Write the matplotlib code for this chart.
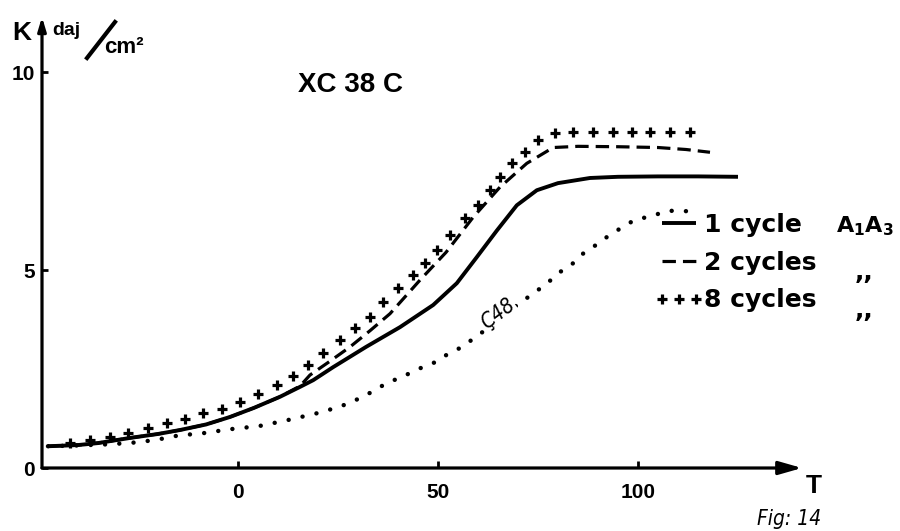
import matplotlib
matplotlib.use("Agg")
import matplotlib.pyplot as plt
from matplotlib.lines import Line2D
from matplotlib.legend_handler import HandlerLine2D

# K (daj/cm2) against temperature T, steel XC 38 C
t_1cycle = [-47.5, -40, -35, -27, -20, -14.5, -8, -2, 4, 10.5, 15.5, 18.8, 23.8, 32,
            40.5, 48.8, 54.7, 59.7, 64.7, 69.7, 74.7, 80, 88, 95, 105, 115, 125]
k_1cycle = [0.55, 0.58, 0.63, 0.76, 0.86, 0.96, 1.1, 1.29, 1.52, 1.8, 2.05, 2.22, 2.55, 3.06,
            3.56, 4.12, 4.67, 5.33, 6.0, 6.64, 7.02, 7.2, 7.33, 7.36, 7.37, 7.37, 7.36]

t_2cycles = [-47.5, -40, -35, -27, -20, -14.5, -8, -2, 4, 10.5, 15.5, 18, 23, 28, 33, 38,
             45.5, 52, 58.8, 65.5, 72.2, 78.8, 85, 95, 105, 112, 118]
k_2cycles = [0.55, 0.58, 0.63, 0.76, 0.86, 0.96, 1.1, 1.29, 1.52, 1.8, 2.07, 2.35, 2.7, 3.06, 3.47, 3.9,
             4.75, 5.45, 6.34, 7.1, 7.7, 8.1, 8.13, 8.12, 8.1, 8.05, 7.98]

t_8cycles = [-42, -37, -32, -27.5, -22.5, -17.7, -13.2, -8.7, -4, 0.5, 5, 9.7, 13.8, 17.5, 21.3,
             25.5, 29.3, 33, 36.3, 40, 43.8, 46.8, 49.7, 53, 56.8, 60, 63, 65.5, 68.5, 71.7, 75,
             79.3, 83.8, 88.8, 93.8, 98.4, 103, 108, 113]
k_8cycles = [0.62, 0.7, 0.78, 0.88, 1.0, 1.13, 1.23, 1.38, 1.5, 1.68, 1.88, 2.1, 2.33, 2.6, 2.9,
             3.23, 3.53, 3.82, 4.19, 4.54, 4.87, 5.18, 5.5, 5.88, 6.31, 6.64, 7.02, 7.35, 7.7, 7.98, 8.28,
             8.46, 8.48, 8.48, 8.48, 8.48, 8.48, 8.48, 8.48]

t_c48 = [-47.5, -40, -32, -25, -20, -15, -8.7, -2, 5.3, 12.4, 20, 25.5, 29.5, 34, 37.2, 41, 45,
         48.8, 52, 56, 59, 62, 66, 71, 73.8, 76.8, 80, 83.5, 86, 89.7, 92.8, 96, 99, 103.7,
         107.5, 111, 114.5]
k_c48 = [0.55, 0.57, 0.6, 0.65, 0.72, 0.82, 0.88, 0.98, 1.06, 1.21, 1.39, 1.55, 1.72, 1.95, 2.15, 2.3, 2.5,
         2.65, 2.85, 3.06, 3.28, 3.5, 3.85, 4.2, 4.42, 4.62, 4.92, 5.15, 5.4, 5.65, 5.88, 6.08, 6.26, 6.38,
         6.5, 6.5, 6.47]

legend_labels = ["1 cycle", "2 cycles", "8 cycles"]
x_ticks = [0, 50, 100]
y_ticks = [0, 5, 10]

W, H = 900, 531
BOLD = dict(family=["Liberation Sans", "DejaVu Sans"], weight="bold")
WIDE = dict(family="DejaVu Sans", weight="bold")
HAND = dict(family="DejaVu Sans", style="italic", stretch="condensed")
plt.rcParams["mathtext.fontset"] = "dejavusans"


def fig_xy(x, y):
    return x / W, 1 - y / H


fig = plt.figure(figsize=(9, 5.31), dpi=100)
ax = fig.add_axes([42 / W, 1 - 468 / H, 760 / W, 455 / H])
ax.set_xlim(-49, 141)
ax.set_ylim(0, 11.5)

ax.plot(t_c48, k_c48, color="black", lw=3.2, linestyle=(0, (0.01, 3.2)),
        dash_capstyle="round")
l1, = ax.plot(t_1cycle, k_1cycle, color="black", lw=2.8, solid_capstyle="butt")
l2, = ax.plot(t_2cycles, k_2cycles, color="black", lw=2.3, linestyle=(0, (4.2, 2.2)))
l8, = ax.plot(t_8cycles, k_8cycles, linestyle="none", marker="+", color="black",
              markersize=7, markeredgewidth=2.3)

# axes drawn as arrows
for s in ax.spines.values():
    s.set_visible(False)
ax.annotate("", xy=(141, 0), xytext=(-49, 0), annotation_clip=False,
            arrowprops=dict(arrowstyle="-|>,head_length=0.7,head_width=0.2",
                            lw=2.3, color="black", mutation_scale=20,
                            shrinkA=0, shrinkB=0))
ax.annotate("", xy=(-49, 11.4), xytext=(-49, 0), annotation_clip=False,
            arrowprops=dict(arrowstyle="-|>,head_length=0.4,head_width=0.12",
                            lw=2.3, color="black", mutation_scale=20,
                            shrinkA=0, shrinkB=0))

ax.set_xticks(x_ticks)
ax.set_yticks(y_ticks)
ax.set_xticklabels([str(v) for v in x_ticks], fontsize=15, **BOLD)
ax.set_yticklabels([str(v) for v in y_ticks], fontsize=15, **BOLD)
ax.tick_params(axis="x", direction="in", length=5, width=2, pad=11)
ax.tick_params(axis="y", direction="in", length=4, width=2, pad=5)

ax.legend([l1, l2, l8], legend_labels, loc="upper left",
          bbox_to_anchor=fig_xy(662, 213), bbox_transform=fig.transFigure,
          frameon=False, prop=dict(size=18, **WIDE), handlelength=1.35,
          handletextpad=0.35, labelspacing=0.55, borderpad=0, borderaxespad=0,
          numpoints=3, handler_map={Line2D: HandlerLine2D(marker_pad=0)})

fig.text(*fig_xy(836, 232), r"$\mathbf{A_1A_3}$", fontsize=16, va="baseline")
fig.text(*fig_xy(855, 272), ",,", fontsize=18, va="center", **WIDE)
fig.text(*fig_xy(855, 310), ",,", fontsize=18, va="center", **WIDE)

# labels
fig.text(*fig_xy(298, 92), "XC 38 C", fontsize=20, va="baseline", **BOLD)
fig.text(*fig_xy(12, 40), "K", fontsize=19, va="baseline", **BOLD)
fig.text(*fig_xy(52, 35), "daj", fontsize=14, va="baseline", **BOLD)
fig.add_artist(Line2D([87 / W, 115 / W], [1 - 58 / H, 1 - 22 / H],
                      color="black", lw=3, transform=fig.transFigure))
fig.text(*fig_xy(104, 53), "cm²", fontsize=16, va="baseline", **BOLD)
fig.text(*fig_xy(806, 493), "T", fontsize=19, va="baseline", **BOLD)
fig.text(*fig_xy(757, 525), "Fig: 14", fontsize=15, va="baseline", **HAND)
ax.text(65, 3.9, "Ç48", fontsize=15, rotation=37, ha="center", va="center",
        bbox=dict(facecolor="white", edgecolor="none", pad=0.5), **HAND)

fig.savefig("out.png", dpi=100)
